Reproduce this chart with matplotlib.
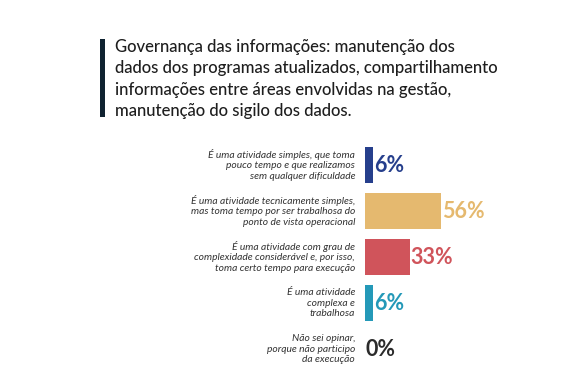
import matplotlib
matplotlib.use("Agg")
import matplotlib.pyplot as plt
from matplotlib.patches import Rectangle

categories = [
    "É uma atividade simples, que toma\npouco tempo e que realizamos\nsem qualquer dificuldade",
    "É uma atividade tecnicamente simples,\nmas toma tempo por ser trabalhosa do\nponto de vista operacional",
    "É uma atividade com grau de\ncomplexidade considerável e, por isso,\ntoma certo tempo para execução",
    "É uma atividade\ncomplexa e\ntrabalhosa",
    "Não sei opinar,\nporque não participo\nda execução",
]
values = [6, 56, 33, 6, 0]
value_labels = ["6%", "56%", "33%", "6%", "0%"]
bar_colors = ["#263f8c", "#e5b96f", "#d0545b", "#2499b8", "#333333"]
text_colors = ["#263f8c", "#e5b96f", "#d0545b", "#2499b8", "#2b2b2b"]
title = ("Governança das informações: manutenção dos\n"
         "dados dos programas atualizados, compartilhamento\n"
         "informações entre áreas envolvidas na gestão,\n"
         "manutenção do sigilo dos dados.")

W, H = 569, 373
fig = plt.figure(figsize=(W / 100, H / 100), dpi=100)
fig.patch.set_facecolor("white")

# axes in pixel coordinates
ax_left, ax_right = 365, 565
ax_top, ax_bottom = 142, 372
ax = fig.add_axes([ax_left / W, 1 - ax_bottom / H, (ax_right - ax_left) / W, (ax_bottom - ax_top) / H])
px_per_pct = 76 / 56.0
ax.set_xlim(0, (ax_right - ax_left) / px_per_pct)
ax.set_ylim(len(values) - 0.5, -0.5)
ax.axis("off")

ypos = list(range(len(values)))
ax.barh(ypos, values, height=0.78, color=bar_colors, edgecolor="none")

for i, (v, lab, tc, cat) in enumerate(zip(values, value_labels, text_colors, categories)):
    ax.annotate(lab, xy=(v, i), xytext=(1, 0), textcoords="offset pixels",
                ha="left", va="center", fontsize=15.5, fontweight="bold",
                family="Lato", color=tc)
    ax.annotate(cat, xy=(0, i), xytext=(-10, 0), textcoords="offset pixels",
                ha="right", va="center", fontsize=7.4, style="italic",
                family="Lato", color="#333333", linespacing=1.27)

# title bar and title
fig.add_artist(Rectangle((100 / W, 1 - 117 / H), 5 / W, 78 / H,
                         transform=fig.transFigure, color="#0f2230", lw=0))
fig.text(115 / W, 1 - 39 / H, title, ha="left", va="top", fontsize=12.0,
         family="Lato", fontweight="medium", color="#1e1e1e", linespacing=1.42)

fig.savefig("out.png", dpi=100, facecolor="white")
